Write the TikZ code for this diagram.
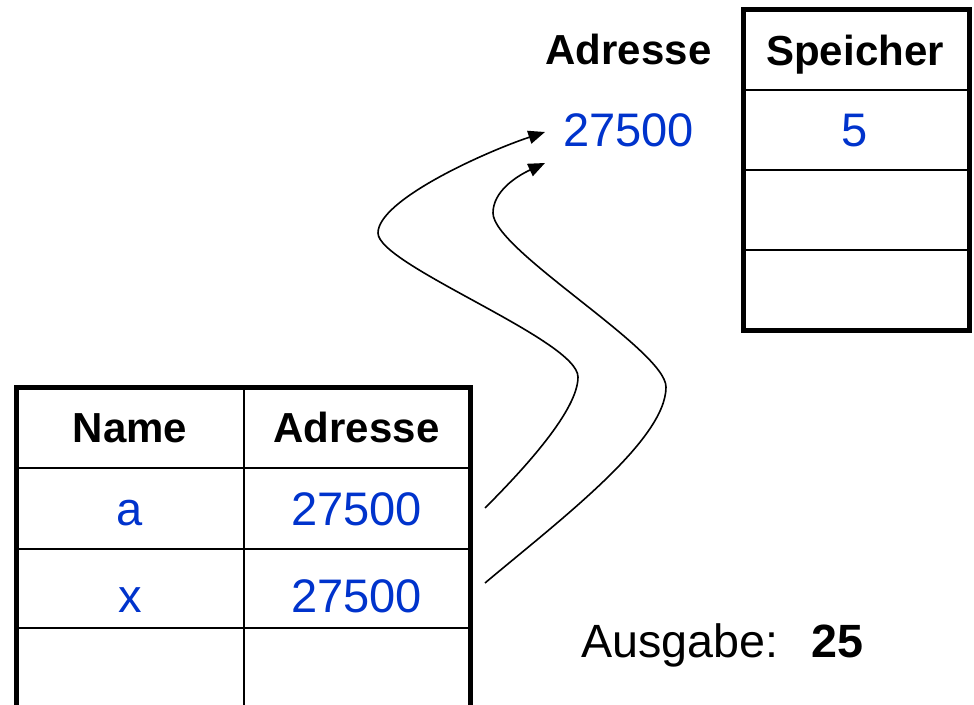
\documentclass[tikz,border=0pt]{standalone}
\usepackage{fontspec}
\setmainfont{Liberation Sans}
\usetikzlibrary{arrows.meta}
\definecolor{valblue}{RGB}{0,51,204}
\begin{document}
\begin{tikzpicture}[x=0.75pt,y=-0.75pt,
  hdr/.style={font=\fontsize{31.5}{36}\selectfont\bfseries, anchor=base, inner sep=0pt},
  val/.style={font=\fontsize{35.3}{40}\selectfont, text=valblue, anchor=base, inner sep=0pt},
  plain/.style={font=\fontsize{35}{40}\selectfont, anchor=base west, inner sep=0pt},
  frame/.style={line width=3.75pt},
  gridline/.style={line width=1.5pt},
  link/.style={line width=1.2pt, -{Triangle[length=12.5pt,width=10pt]}}
]
\useasboundingbox (0,0) rectangle (974,705);
\clip (0,0) rectangle (974,705);

% memory table (top right)
\draw[gridline] (743,90) -- (969,90);
\draw[gridline] (743,170) -- (969,170);
\draw[gridline] (743,250) -- (969,250);
\draw[frame] (743,10) rectangle (969,330.5);
\node[hdr] (speicher) at (855,66) {Speicher};
\node[val] (five) at (855,147) {5};
\node[hdr] (adrhead) at (628.5,65) {Adresse};
\node[val] (adrval) at (628.5,147) {27500};

% symbol table (bottom left)
\draw[gridline] (16,468) -- (470,468);
\draw[gridline] (16,548.5) -- (470,548.5);
\draw[gridline] (16,628) -- (470,628);
\draw[gridline] (243.5,387.5) -- (243.5,720);
\draw[frame] (16,720) -- (16,387.5) -- (470,387.5) -- (470,720);
\node[hdr] (name) at (130,443) {Name};
\node[hdr] (adr) at (356.5,443) {Adresse};
\node[val] (va) at (130,525) {a};
\node[val] (aadr) at (356.5,525) {27500};
\node[val] (vx) at (130,612) {x};
\node[val] (xadr) at (356.5,612) {27500};

% output
\node[plain] (ausgabe) at (581,657) {Ausgabe:};
\node[plain, font=\fontsize{35}{40}\selectfont\bfseries] (result) at (811,657) {25};

% connectors
\coordinate (aStart) at (485,508);
\coordinate (aEnd) at (545,132);
\coordinate (xStart) at (485,583);
\coordinate (xEnd) at (545,163);
\draw[link] (aStart) .. controls (525,468) and (578,410) .. (578,377)
  .. controls (578,340) and (378,265) .. (378,233)
  .. controls (378,200) and (485,152) .. (aEnd);
\draw[link] (xStart) .. controls (560,520) and (666,440) .. (666,387)
  .. controls (666,350) and (493,250) .. (493,213)
  .. controls (493,192) and (515,177) .. (xEnd);
\end{tikzpicture}
\end{document}
